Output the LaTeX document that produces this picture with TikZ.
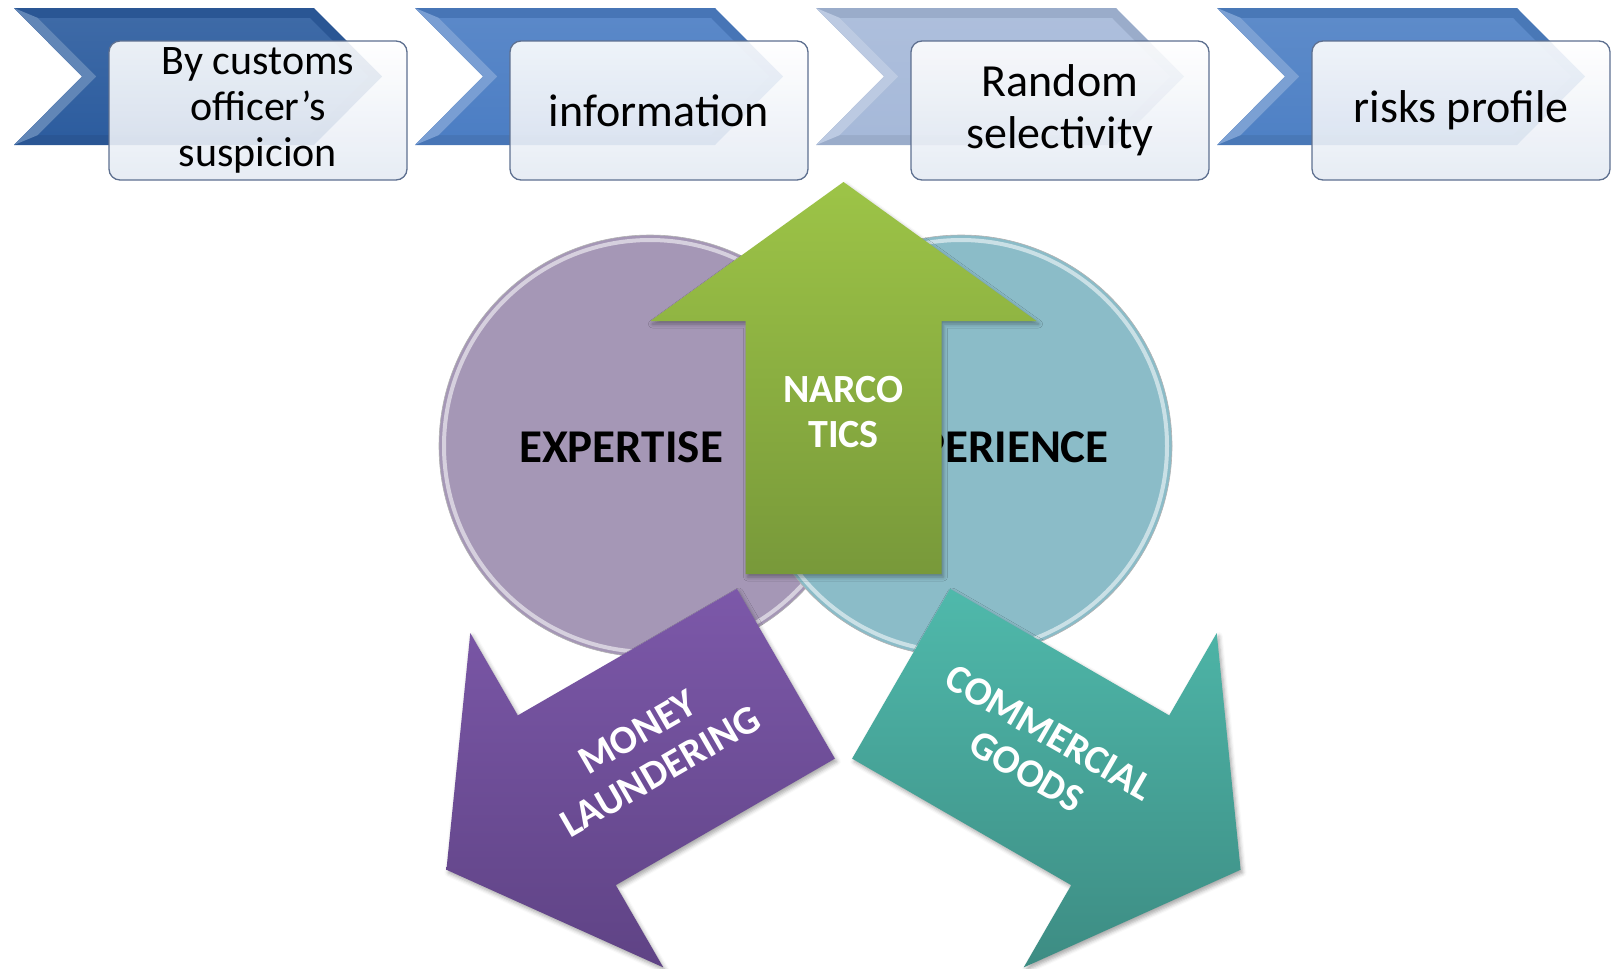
\documentclass[tikz,border=0pt]{standalone}
\usepackage{fontspec}
\setmainfont{Carlito}
\usetikzlibrary{calc,shadows.blur}

\definecolor{chevdark}{HTML}{2D5D9F}
\definecolor{chevmid}{HTML}{4C7EC4}
\definecolor{chevpale}{HTML}{A6B9D9}
\definecolor{chevblue}{HTML}{4F81C5}
\definecolor{boxline}{HTML}{5E7090}
\definecolor{boxfill}{HTML}{E4EAF3}
\definecolor{lavender}{HTML}{A597B6}
\definecolor{seablue}{HTML}{8BBCC8}
\definecolor{greentop}{HTML}{9DC447}
\definecolor{greenbot}{HTML}{78993A}
\definecolor{purpletop}{HTML}{7C58A9}
\definecolor{purplebot}{HTML}{5F4385}
\definecolor{tealtop}{HTML}{4FB9AB}
\definecolor{tealbot}{HTML}{3D8C83}

\tikzset{
	stagebox/.style={draw=boxline, line width=1.3pt, rounded corners=11pt,
			top color=white, bottom color=boxfill, fill opacity=0.9, text opacity=1,
			minimum width=298pt, minimum height=139pt, inner sep=0pt, align=center,
			font=\fontsize{46}{52}\selectfont},
	circletext/.style={font=\bfseries\fontsize{47}{52}\selectfont, text=black},
	arrowtext/.style={font=\bfseries\fontsize{40}{45}\selectfont, text=white, align=center},
	blockarrow/.style={blur shadow={shadow xshift=2pt, shadow yshift=-3pt,
					shadow blur radius=4pt, shadow opacity=35}}
}

\begin{document}
\begin{tikzpicture}[x=1pt, y=-1pt]
	\useasboundingbox (0,0) rectangle (1612,969);

	% Draw the chevrons of the top row
	\foreach \i/\col in {0/chevdark,1/chevmid,2/chevpale,3/chevblue} {
		\begin{scope}[shift={({14+401*\i},0)}]
			\fill[\col!93!black] (0,8) -- (300,8) -- (368,76.5) -- (300,145) -- (0,145) -- (68,76.5) -- cycle;
			% lighter bevel on the notch
			\fill[\col!75!white] (0,8) -- (68,76.5) -- (0,145) -- (24,135) -- (82.5,76.5) -- (24,18) -- cycle;
			\shade[top color=\col!92!white, bottom color=\col] (24,18) -- (296,18) -- (354,76.5)
				-- (296,135) -- (24,135) -- (82.5,76.5) -- cycle;
		\end{scope}
	}

	% Label boxes
	\node[stagebox, font=\fontsize{42}{46}\selectfont] (suspicion) at (258,110.5) {By customs\\officer’s\\suspicion};
	\node[stagebox] (information) at (659,110.5) {information};
	\node[stagebox] (random) at (1060,110.5) {Random\\selectivity};
	\node[stagebox] (profile) at (1461,110.5) {risks profile};

	% Draw the two circles
	\coordinate (lc) at (650,446);
	\coordinate (rc) at (961,446);
	\fill[lavender] (lc) circle (211);
	\draw[white, opacity=0.55, line width=4pt] (lc) circle (206);
	\draw[black!30, line width=0.6pt] (lc) circle (211);
	\fill[seablue] (rc) circle (211);
	\draw[white, opacity=0.55, line width=4pt] (rc) circle (206);
	\draw[black!30, line width=0.6pt] (rc) circle (211);

	\node[circletext] (expertise) at (621,447) {EXPERTISE};
	\node[circletext] (experience) at (990,447) {EXPERIENCE};

	% Draw the three block arrows round the point C
	\coordinate (C) at (843.5,640.5);
	\foreach \ang/\topc/\botc in {0/greentop/greenbot,120/purpletop/purplebot,-120/tealtop/tealbot} {
		\begin{scope}[shift={(C)}, rotate=\ang]
			\shade[blockarrow, top color=\topc, bottom color=\botc]
				(-98,-66.5) -- (-98,-319.5) -- (-193,-319.5) -- (0,-458.5)
				-- (193,-319.5) -- (98,-319.5) -- (98,-66.5) -- cycle;
		\end{scope}
	}

	% Label the arrows
	\node[arrowtext] (narco) at (843.5,412) {NARCO\\TICS};
	\node[arrowtext, rotate=30] (money) at (649,752) {MONEY\\LAUNDERING};
	\node[arrowtext, rotate=-30] (goods) at (1038,752) {COMMERCIAL\\GOODS};
\end{tikzpicture}
\end{document}
